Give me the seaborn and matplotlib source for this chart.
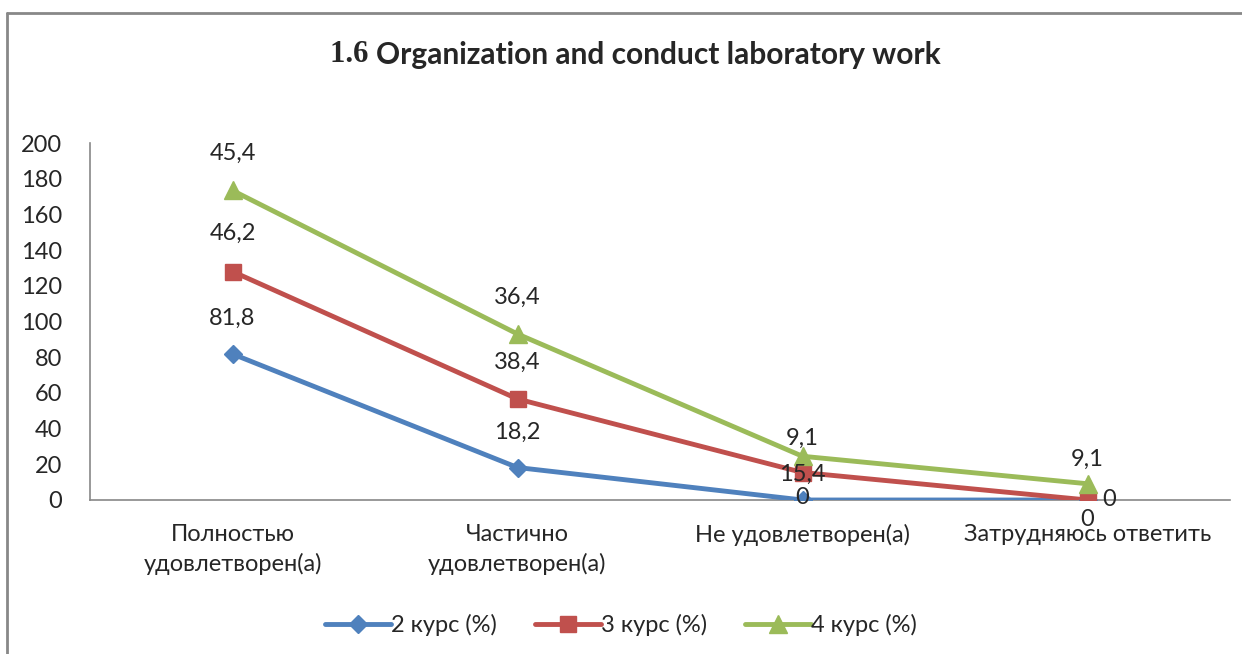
import numpy as np
import pandas as pd
import matplotlib
matplotlib.use("Agg")
import matplotlib.pyplot as plt
import seaborn as sns
from matplotlib.lines import Line2D

categories = ["Полностью\nудовлетворен(а)", "Частично\nудовлетворен(а)",
              "Не удовлетворен(а)", "Затрудняюсь ответить"]
series = ["2 курс (%)", "3 курс (%)", "4 курс (%)"]
kurs2 = [81.8, 18.2, 0, 0]
kurs3 = [46.2, 38.4, 15.4, 0]
kurs4 = [45.4, 36.4, 9.1, 9.1]
yticks = [0, 20, 40, 60, 80, 100, 120, 140, 160, 180, 200]

colors = ["#4F81BD", "#C0504D", "#9BBB59"]
markers = ["D", "s", "^"]
msizes = [9, 12, 13]

# label offsets in pixels (dx, dy) per series / point
offsets = [
    [(0, 36), (0, 35), (0, 3), (0, -20)],
    [(0, 38), (0, 37), (0, -2), (22, 0)],
    [(0, 37), (0, 37), (0, 18), (0, 24)],
]

sns.set_style("white")
plt.rcParams["font.family"] = ["Lato", "DejaVu Sans"]
fs = 17

# stacked line chart: cumulative values
vals = np.array([kurs2, kurs3, kurs4])
cum = np.cumsum(vals, axis=0)
x = np.arange(len(categories))
rows = []
for i, s in enumerate(series):
    for j in range(len(categories)):
        rows.append({"x": x[j], "y": cum[i, j], "series": s})
df = pd.DataFrame(rows)

fig = plt.figure(figsize=(12.42, 6.54), dpi=100)
ax = fig.add_axes([90 / 1242, 1 - 500 / 654, 1140 / 1242, 357 / 654])

sns.lineplot(data=df, x="x", y="y", hue="series", palette=colors,
             legend=False, ax=ax, linewidth=3.5)
for i, s in enumerate(series):
    ax.plot(x, cum[i], linestyle="none", marker=markers[i], markersize=msizes[i],
            color=colors[i], zorder=5)
    for j in range(len(categories)):
        dx, dy = offsets[i][j]
        ax.annotate(f"{vals[i, j]:g}".replace(".", ","), (x[j], cum[i, j]),
                    xytext=(dx, dy), textcoords="offset pixels",
                    ha="center", va="center", fontsize=fs, zorder=6)

ax.set_xlim(-0.5, len(categories) - 0.5)
ax.set_ylim(0, 200)
ax.set_yticks(yticks)
ax.set_xticks(x)
ax.set_xticklabels(categories, fontsize=fs, linespacing=1.45)
ax.tick_params(axis="y", labelsize=fs, length=0, pad=20)
ax.tick_params(axis="x", length=0, pad=17)
ax.set_xlabel("")
ax.set_ylabel("")
for side in ["top", "right"]:
    ax.spines[side].set_visible(False)
for side in ["left", "bottom"]:
    ax.spines[side].set_color("#888888")
    ax.spines[side].set_linewidth(1.2)
ax.spines["bottom"].set_zorder(1)
ax.patch.set_alpha(0)

# title: "1.6" in serif, remainder in sans bold
fig.text(376 / 1242, 1 - 55 / 654, "1.6 ", family="Liberation Serif",
         fontweight="bold", fontsize=22, ha="right", va="center")
fig.text(376 / 1242, 1 - 55 / 654, "Organization and conduct laboratory work",
         fontweight="bold", fontsize=21.5, ha="left", va="center")

handles = [Line2D([0], [0], color=colors[i], linewidth=3.5, marker=markers[i],
                  markersize=msizes[i]) for i in range(3)]
fig.legend(handles, series, loc="center", bbox_to_anchor=(0.5, 1 - 625 / 654),
           ncol=3, frameon=False, fontsize=fs, handlelength=2.8,
           handletextpad=0.0, columnspacing=1.6)

# chart border
fig.add_artist(Line2D([7 / 1242, 7 / 1242], [0, 1 - 13 / 654], color="#888888",
                      linewidth=2, transform=fig.transFigure))
fig.add_artist(Line2D([7 / 1242, 1], [1 - 13 / 654, 1 - 13 / 654], color="#888888",
                      linewidth=2, transform=fig.transFigure))

fig.savefig("out.png", dpi=100)
